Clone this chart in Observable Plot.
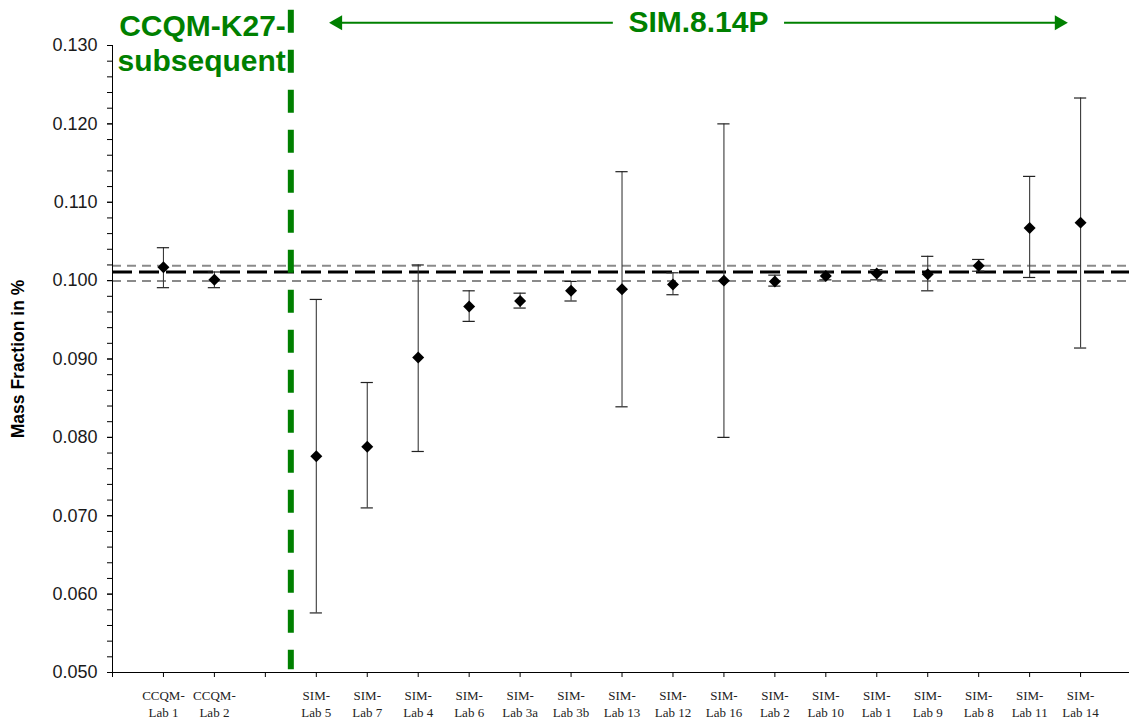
<!DOCTYPE html>
<html>
<head>
<meta charset="utf-8">
<script src="https://cdn.jsdelivr.net/npm/d3@7"></script>
<script src="https://cdn.jsdelivr.net/npm/@observablehq/plot@0.6"></script>
<style>
  html, body { margin: 0; padding: 0; background: #fff; }
  svg { display: block; }
</style>
</head>
<body>
<div id="chart"></div>
<script>
// ---- data ----
const labLabels = ["CCQM-\nLab 1", "CCQM-\nLab 2",
  "SIM-\nLab 5", "SIM-\nLab 7", "SIM-\nLab 4", "SIM-\nLab 6", "SIM-\nLab 3a", "SIM-\nLab 3b",
  "SIM-\nLab 13", "SIM-\nLab 12", "SIM-\nLab 16", "SIM-\nLab 2", "SIM-\nLab 10", "SIM-\nLab 1",
  "SIM-\nLab 9", "SIM-\nLab 8", "SIM-\nLab 11", "SIM-\nLab 14"];
const labSlots = [1, 2, 4, 5, 6, 7, 8, 9, 10, 11, 12, 13, 14, 15, 16, 17, 18, 19];
const massFraction = [0.1017, 0.1001,
  0.0776, 0.0788, 0.0902, 0.0967, 0.0974, 0.0987,
  0.0989, 0.0995, 0.1000, 0.0999, 0.1006, 0.1009,
  0.1008, 0.1019, 0.1067, 0.1074];
const upperBound = [0.1042, 0.1011,
  0.0976, 0.0870, 0.1020, 0.0987, 0.0984, 0.0999,
  0.1139, 0.1010, 0.1200, 0.1007, 0.1011, 0.1014,
  0.1031, 0.1027, 0.1133, 0.1233];
const lowerBound = [0.0991, 0.0991,
  0.0576, 0.0710, 0.0782, 0.0948, 0.0965, 0.0974,
  0.0839, 0.0982, 0.0800, 0.0993, 0.1001, 0.1001,
  0.0987, 0.1012, 0.1004, 0.0914];

const referenceValue = [0.1011];
const referenceBand = [0.09995, 0.1019];

const yDomain = [0.05, 0.13];
const yMajorTicks = [0.05, 0.06, 0.07, 0.08, 0.09, 0.10, 0.11, 0.12, 0.13];
const yMinorTicks = d3.range(0, 41).map(i => 0.05 + i * 0.002);
const xTickSlots = d3.range(0, 20);
const xDomain = [0, 19.96];

// annotations
const dividerSlot = [3.5];
const dividerSpan = [0.1345, 0.05035];
const leftGroupText = ["CCQM-K27-\nsubsequent"];
const leftGroupTextY = [0.1268];
const rightGroupText = ["SIM.8.14P"];
const rightGroupCenter = [11.5];
const rightGroupHalfSpan = [7.25];
const rightGroupTextGap = [1.68];
const arrowY = [0.1329];

const green = "#008000";

// ---- build table ----
const rows = labLabels.map((label, i) => ({
  label, slot: labSlots[i], value: massFraction[i], hi: upperBound[i], lo: lowerBound[i]
}));
const capHalf = 0.12;

const arrowSegs = [
  {x1: rightGroupCenter[0] - rightGroupTextGap[0], x2: rightGroupCenter[0] - rightGroupHalfSpan[0] + 0.1},
  {x1: rightGroupCenter[0] + rightGroupTextGap[0], x2: rightGroupCenter[0] + rightGroupHalfSpan[0] - 0.1}
];
const leftHead = [{x: rightGroupCenter[0] - rightGroupHalfSpan[0]}];
const rightHead = [{x: rightGroupCenter[0] + rightGroupHalfSpan[0]}];

const chart = Plot.plot({
  width: 1129,
  height: 719,
  marginTop: 45,
  marginBottom: 47,
  marginLeft: 112,
  marginRight: 0,
  x: {domain: xDomain, axis: null},
  y: {domain: yDomain, axis: null},
  style: {fontFamily: "'Liberation Sans', Arial, sans-serif", background: "white", overflow: "visible"},
  marks: [
    // reference band & value
    Plot.ruleY(referenceBand, {stroke: "#8a8a8a", strokeWidth: 2, strokeDasharray: "9,6"}),
    Plot.ruleY(referenceValue, {stroke: "black", strokeWidth: 3, strokeDasharray: "20,7"}),
    // error bars
    Plot.ruleX(rows, {x: "slot", y1: "lo", y2: "hi", stroke: "#3a3a3a", strokeWidth: 1.1}),
    Plot.ruleY(rows, {y: "hi", x1: d => d.slot - capHalf, x2: d => d.slot + capHalf, stroke: "#222", strokeWidth: 1.2}),
    Plot.ruleY(rows, {y: "lo", x1: d => d.slot - capHalf, x2: d => d.slot + capHalf, stroke: "#222", strokeWidth: 1.2}),
    Plot.dot(rows, {x: "slot", y: "value", symbol: "diamond2", r: 5.4, fill: "black", stroke: "none"}),
    // divider
    Plot.ruleX(dividerSlot, {x: d => d, y1: dividerSpan[0], y2: dividerSpan[1], stroke: green, strokeWidth: 6, strokeDasharray: "23,17"}),
    // axes lines
    Plot.ruleX([0], {stroke: "black", strokeWidth: 1}),
    Plot.ruleY([yDomain[0]], {stroke: "black", strokeWidth: 1}),
    // y ticks
    Plot.axisY({ticks: yMinorTicks, tickSize: 5, tickFormat: () => "", label: null, stroke: "black"}),
    Plot.axisY({ticks: yMajorTicks, tickSize: 5, tickPadding: 10, tickFormat: ".3f", label: null,
      fontSize: 18, fill: "#1a1a1a", stroke: "black"}),
    // x ticks
    Plot.axisX({ticks: xTickSlots, tickSize: 5, tickFormat: () => "", label: null, stroke: "black"}),
    Plot.text(rows, {x: "slot", text: "label", frameAnchor: "bottom", dy: 15, lineAnchor: "top",
      lineHeight: 1.31, fontSize: 13, fontFamily: "'Liberation Serif', 'Times New Roman', serif", fill: "#222"}),
    // y label
    Plot.text(["Mass Fraction in %"], {frameAnchor: "left", dx: -94, rotate: -90, fontSize: 17.5,
      fontWeight: "bold", fill: "black", textAnchor: "middle"}),
    // annotations
    Plot.text(leftGroupText, {x: dividerSlot[0], y: leftGroupTextY[0], text: d => d, textAnchor: "end", dx: -5,
      lineAnchor: "bottom", lineHeight: 1.167, fontSize: 30, fontWeight: "bold", fill: green}),
    Plot.text(rightGroupText, {x: rightGroupCenter[0], y: arrowY[0], text: d => d, textAnchor: "middle",
      lineAnchor: "middle", fontSize: 30, fontWeight: "bold", fill: green}),
    Plot.link(arrowSegs, {x1: "x1", x2: "x2", y1: arrowY[0], y2: arrowY[0], stroke: green, strokeWidth: 1.8}),
    Plot.dot(leftHead, {x: "x", y: arrowY[0], symbol: "triangle", r: 5.6, rotate: -90, dx: 8.7, fill: green, stroke: "none"}),
    Plot.dot(rightHead, {x: "x", y: arrowY[0], symbol: "triangle", r: 5.6, rotate: 90, dx: -8.7, fill: green, stroke: "none"})
  ]
});
document.getElementById("chart").appendChild(chart);
</script>
</body>
</html>
